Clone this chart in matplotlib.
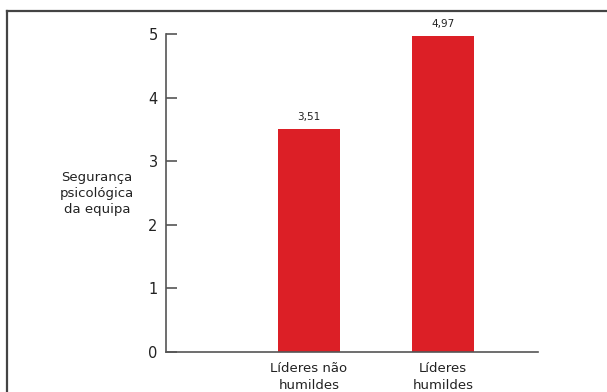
import matplotlib.pyplot as plt
from matplotlib.lines import Line2D

categories = ['Líderes não\nhumildes', 'Líderes\nhumildes']
values = [3.51, 4.97]
value_labels = ['3,51', '4,97']
yticks = [0, 1, 2, 3, 4, 5]

plt.rcParams['font.family'] = ['DejaVu Sans']

fig = plt.figure(figsize=(6.07, 3.92), dpi=100)
ax = fig.add_axes([166 / 607, 40 / 392, 372 / 607, 318 / 392])

x = list(range(len(categories)))
bars = ax.bar(x, values, width=0.46, color='#dc1f26')
for b, lab in zip(bars, value_labels):
    ax.annotate(lab, (b.get_x() + b.get_width() / 2, b.get_height()),
                xytext=(0, 5), textcoords='offset points',
                ha='center', va='bottom', fontsize=7.5, color='#222222')

ax.set_xlim(-1.067, 1.709)
ax.set_ylim(0, 5)
ax.set_yticks(yticks)
ax.set_yticklabels([str(t) for t in yticks], fontsize=10.5, color='#222222')
ax.set_xticks(x)
ax.set_xticklabels(categories, fontsize=9.5, color='#222222', linespacing=1.45)

for s in ['top', 'right']:
    ax.spines[s].set_visible(False)
for s in ['left', 'bottom']:
    ax.spines[s].set_color('#555555')
    ax.spines[s].set_linewidth(1.2)
ax.tick_params(axis='y', direction='in', length=8, width=1.2, color='#555555', pad=6)
ax.tick_params(axis='x', length=0, pad=7)

fig.text(97 / 607, 1 - 193 / 392, 'Segurança\npsicológica\nda equipa',
         ha='center', va='center', fontsize=9.5, color='#222222', linespacing=1.3)

# moldura do quadro
fig.add_artist(Line2D([7 / 607, 7 / 607], [0, 1 - 11 / 392], transform=fig.transFigure,
                      color='#444444', lw=1.6))
fig.add_artist(Line2D([7 / 607, 1], [1 - 11 / 392, 1 - 11 / 392], transform=fig.transFigure,
                      color='#444444', lw=1.6))

fig.savefig('out.png', dpi=100)
